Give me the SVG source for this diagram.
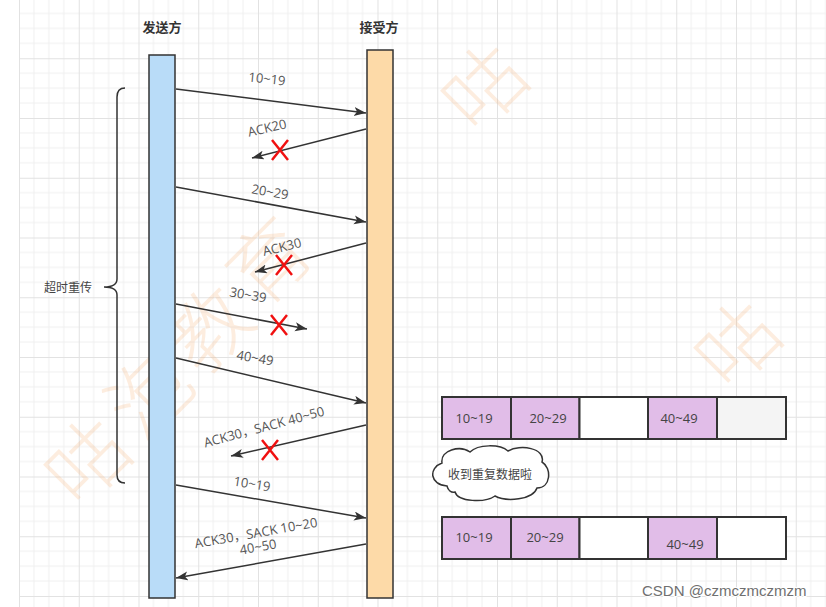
<svg xmlns="http://www.w3.org/2000/svg" width="826" height="607" viewBox="0 0 826 607">
<style>
.lbl{font-family:"Open Sans","Noto Sans CJK SC",sans-serif;font-size:13px;fill:#555;text-anchor:middle}
.cell{font-family:"Open Sans","Noto Sans CJK SC",sans-serif;font-size:13px;fill:#444;text-anchor:middle}
.title{font-family:"Noto Sans CJK SC",sans-serif;font-size:13px;font-weight:bold;fill:#333;text-anchor:middle}
.cn{font-family:"Noto Sans CJK SC",sans-serif;font-size:12px;fill:#444;text-anchor:middle}
.wm{font-family:"Noto Sans CJK SC",sans-serif;font-size:80px;font-weight:300;fill:#f6a866;opacity:0.2;text-anchor:middle}
.conn{stroke:#333;stroke-width:1.5;fill:none;marker-end:url(#arr)}
.x{stroke:#f01010;stroke-width:2.5;fill:none}
.box{stroke:#333;stroke-width:2}
</style>
<defs>
<pattern id="grid" patternUnits="userSpaceOnUse" x="19" y="-1.5" width="59.75" height="59.75">
<path d="M14.94 0V59.75M29.875 0V59.75M44.81 0V59.75M0 14.94H59.75M0 29.875H59.75M0 44.81H59.75" stroke="#efefef" stroke-width="1" fill="none"/>
<path d="M0.5 0V59.75M0 0.5H59.75" stroke="#e2e2e2" stroke-width="1" fill="none"/>
</pattern>
<marker id="arr" markerUnits="userSpaceOnUse" markerWidth="13" markerHeight="10" refX="12" refY="4.5" orient="auto">
<path d="M0,0 L12,4.5 L0,9 L3,4.5 Z" fill="#333"/>
</marker>
</defs>
<rect width="826" height="607" fill="#fff"/>
<rect x="19" y="0" width="807" height="607" fill="url(#grid)"/>
<g id="watermark">
<text class="wm" transform="translate(88,462) rotate(-45)" dy="0.35em">咕</text>
<text class="wm" transform="translate(150,395) rotate(-45)" dy="0.35em">泡</text>
<text class="wm" transform="translate(210,330) rotate(-45)" dy="0.35em">教</text>
<text class="wm" transform="translate(270,262) rotate(-45)" dy="0.35em">育</text>
<text class="wm" transform="translate(485,88) rotate(-45)" dy="0.35em">咕</text>
<text class="wm" transform="translate(738,345) rotate(-45)" dy="0.35em">咕</text>
</g>
<g id="sender">
<text class="title" x="162" y="32">发送方</text>
<rect x="149" y="55" width="26" height="543" fill="#b9dcf8" stroke="#333" stroke-width="1.5"/>
</g>
<g id="receiver">
<text class="title" x="379" y="32">接受方</text>
<rect x="367" y="50" width="26" height="548" fill="#fddaa8" stroke="#333" stroke-width="1.5"/>
</g>
<g id="timeout-brace">
<path d="M125,88 C119.5,88 117,91 117,97 L117,279 C117,284 113,287 104,287 C113,287 117,290 117,295 L117,475 C117,480 119.5,483 125,483" stroke="#333" stroke-width="1.5" fill="none"/>
<text class="cn" x="68" y="291.5">超时重传</text>
</g>
<g id="connectors">
<line class="conn" x1="176" y1="89" x2="366" y2="113"/>
<line class="conn" x1="366" y1="129" x2="252" y2="158"/>
<line class="conn" x1="176" y1="187" x2="366" y2="222"/>
<line class="conn" x1="366" y1="243" x2="255" y2="272"/>
<line class="conn" x1="176" y1="304" x2="307" y2="329"/>
<line class="conn" x1="176" y1="358" x2="366" y2="403"/>
<line class="conn" x1="366" y1="425" x2="231" y2="456"/>
<line class="conn" x1="176" y1="485" x2="366" y2="518"/>
<line class="conn" x1="366" y1="544" x2="176" y2="578"/>
</g>
<g id="labels">
<text class="lbl" transform="translate(267,79) rotate(6)" dy="4.5">10~19</text>
<text class="lbl" transform="translate(267,128) rotate(-13)" dy="4.5">ACK20</text>
<text class="lbl" transform="translate(270,192) rotate(10)" dy="4.5">20~29</text>
<text class="lbl" transform="translate(282,247) rotate(-14)" dy="4.5">ACK30</text>
<text class="lbl" transform="translate(248,295) rotate(10)" dy="4.5">30~39</text>
<text class="lbl" transform="translate(255,358) rotate(10)" dy="4.5">40~49</text>
<text class="lbl" transform="translate(264,427) rotate(-15)" dy="4.5">ACK30，SACK 40~50</text>
<text class="lbl" transform="translate(252,484) rotate(9)" dy="4.5">10~19</text>
<text class="lbl" transform="translate(256,533) rotate(-10)" dy="4.5">ACK30，SACK 10~20</text>
<text class="lbl" transform="translate(258,547) rotate(-10)" dy="4.5">40~50</text>
</g>
<g id="losses">
<path class="x" d="M272,140 L288,160 M288,140 L272,160"/>
<path class="x" d="M276,255 L292,275 M292,255 L276,275"/>
<path class="x" d="M271,315 L287,335 M287,315 L271,335"/>
<path class="x" d="M262,440 L278,460 M278,440 L262,460"/>
</g>
<g id="buffer-before">
<rect class="box" x="442" y="397" width="69" height="42" fill="#e1bde8"/>
<rect class="box" x="511" y="397" width="68.5" height="42" fill="#e1bde8"/>
<rect class="box" x="579.5" y="397" width="68.5" height="42" fill="#fff"/>
<rect class="box" x="648" y="397" width="69" height="42" fill="#e1bde8"/>
<rect class="box" x="717" y="397" width="69" height="42" fill="#f4f4f4"/>
<text class="cell" x="474" y="423">10~19</text>
<text class="cell" x="548" y="423">20~29</text>
<text class="cell" x="679" y="423">40~49</text>
</g>
<g id="duplicate-cloud">
<path d="M447,486 C430,485 428,468 442,463 C440,450 460,445 470,452 C478,444 500,444 508,451 C520,444 546,448 542,462 C552,468 551,488 537,488 C533,500 506,502 495,496 C485,503 458,502 455,492 C451,493 448,490 447,486 Z" fill="#fff" stroke="#333" stroke-width="1.5"/>
<text class="cn" x="490" y="479">收到重复数据啦</text>
</g>
<g id="buffer-after">
<rect class="box" x="442" y="517" width="69" height="42" fill="#e1bde8"/>
<rect class="box" x="511" y="517" width="68.5" height="42" fill="#e1bde8"/>
<rect class="box" x="579.5" y="517" width="68.5" height="42" fill="#fff"/>
<rect class="box" x="648" y="517" width="69" height="42" fill="#e1bde8"/>
<rect class="box" x="717" y="517" width="69" height="42" fill="#fff"/>
<text class="cell" x="474" y="542">10~19</text>
<text class="cell" x="545" y="542">20~29</text>
<text class="cell" x="685" y="549">40~49</text>
</g>
<text x="642" y="596" font-family="Liberation Sans, Arial, sans-serif" font-size="15" fill="#707070" stroke="#fff" stroke-width="2" paint-order="stroke">CSDN @czmczmczmzm</text>
</svg>
